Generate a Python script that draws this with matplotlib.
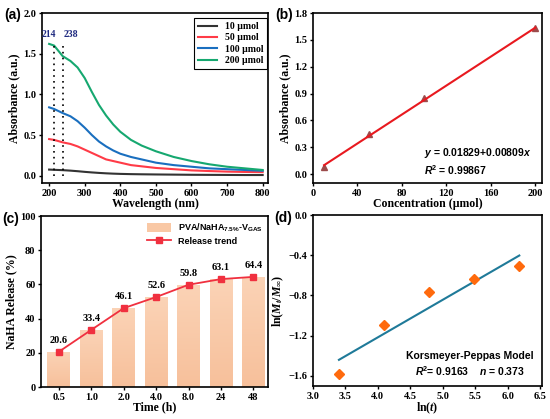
import numpy as np
import matplotlib
matplotlib.use("Agg")
import matplotlib.pyplot as plt
from matplotlib.colors import LinearSegmentedColormap

plt.rcParams['font.family'] = ['Liberation Serif', 'DejaVu Serif']
plt.rcParams['font.weight'] = 'bold'
plt.rcParams['axes.labelweight'] = 'bold'
plt.rcParams['mathtext.fontset'] = 'custom'
plt.rcParams['mathtext.rm'] = 'Liberation Serif:bold'
plt.rcParams['mathtext.it'] = 'Liberation Serif:bold:italic'
plt.rcParams['mathtext.bf'] = 'Liberation Sans:bold'
plt.rcParams['mathtext.sf'] = 'Liberation Sans:bold:italic'
plt.rcParams['axes.linewidth'] = 1.2
plt.rcParams['xtick.major.width'] = 1.0
plt.rcParams['ytick.major.width'] = 1.0
plt.rcParams['xtick.major.size'] = 2.5
plt.rcParams['ytick.major.size'] = 2.5
plt.rcParams['xtick.labelsize'] = 7.5
plt.rcParams['ytick.labelsize'] = 7.5
plt.rcParams['axes.labelsize'] = 8.5

# ---- (a) UV-vis spectra
wl = [200, 214, 238, 260, 280, 300, 320, 340, 360, 380, 400, 430, 460, 500, 550, 600, 650, 700, 750, 800]
abs_10 = [0.075, 0.072, 0.068, 0.062, 0.055, 0.047, 0.040, 0.034, 0.029, 0.025, 0.022, 0.019, 0.017, 0.015, 0.013, 0.011, 0.010, 0.009, 0.008, 0.008]
abs_50 = [0.45, 0.44, 0.41, 0.39, 0.36, 0.32, 0.28, 0.24, 0.20, 0.18, 0.16, 0.13, 0.115, 0.095, 0.08, 0.065, 0.057, 0.05, 0.046, 0.043]
abs_100 = [0.84, 0.82, 0.77, 0.73, 0.67, 0.59, 0.50, 0.42, 0.36, 0.31, 0.27, 0.23, 0.20, 0.16, 0.13, 0.11, 0.09, 0.08, 0.07, 0.06]
abs_200 = [1.62, 1.60, 1.47, 1.41, 1.33, 1.20, 1.03, 0.87, 0.74, 0.63, 0.54, 0.44, 0.37, 0.30, 0.23, 0.18, 0.14, 0.11, 0.09, 0.07]
spec_labels = ['10 µmol', '50 µmol', '100 µmol', '200 µmol']
spec_colors = ['#333333', '#ff3b47', '#1a6fbf', '#16a870']
peaks = [214, 238]

# ---- (b) calibration
conc = [10, 50, 100, 200]
conc_abs = [0.08, 0.45, 0.85, 1.63]
fit_a = 0.01829
fit_b = 0.00809

# ---- (c) release
times = ['0.5', '1.0', '2.0', '4.0', '8.0', '24', '48']
release = [20.6, 33.4, 46.1, 52.6, 59.8, 63.1, 64.4]

# ---- (d) Korsmeyer-Peppas
ln_t = [3.40, 4.10, 4.79, 5.48, 6.18]
ln_m = [-1.58, -1.09, -0.77, -0.64, -0.51]
kp_n = 0.373
kp_k = -2.708

fig = plt.figure(figsize=(5.5, 4.19), dpi=100)
W, H = 550.0, 419.0
def box(l, t, r, b):
    return [l / W, 1 - b / H, (r - l) / W, (b - t) / H]

ax1 = fig.add_axes(box(42, 13, 268, 183))
ax2 = fig.add_axes(box(313, 13, 542, 183))
ax3 = fig.add_axes(box(41, 216, 268, 387))
ax4 = fig.add_axes(box(313, 215, 542, 386))

for ax in (ax1, ax2, ax3, ax4):
    ax.tick_params(direction='out', pad=1.5)

# (a)
for ys, lab, c in zip([abs_10, abs_50, abs_100, abs_200], spec_labels, spec_colors):
    ax1.plot(wl, ys, color=c, lw=1.5, label=lab)
for p in peaks:
    ax1.plot([p, p], [0, 1.64], ls=(0, (1, 2.5)), color='black', lw=1.2)
ax1.text(peaks[0] + 5, 1.68, str(peaks[0]), color='#1f2a80', fontsize=7, ha='right', va='bottom')
ax1.text(peaks[1] + 2, 1.68, str(peaks[1]), color='#1f2a80', fontsize=7, ha='left', va='bottom')
ax1.set_xlim(180, 815)
ax1.set_ylim(-0.09, 2.0)
ax1.set_xticks([200, 300, 400, 500, 600, 700, 800])
ax1.set_yticks([0.0, 0.5, 1.0, 1.5, 2.0])
ax1.yaxis.set_major_formatter('{x:.1f}')
ax1.set_xlabel('Wavelength (nm)', labelpad=0)
ax1.set_ylabel('Absorbance (a.u.)', labelpad=2)
leg = ax1.legend(loc='upper right', fontsize=7, fancybox=False, edgecolor='black',
                 framealpha=1, handlelength=2.0, borderpad=0.4, labelspacing=0.25,
                 bbox_to_anchor=(0.997, 0.97), borderaxespad=0)
leg.get_frame().set_linewidth(0.8)

# (b)
ax2.plot(conc, conc_abs, '^', color='#9c4b4b', ms=5, zorder=2)
xf = np.array([conc[0], conc[-1]])
ax2.plot(xf, fit_a + fit_b * xf, color='#e8191f', lw=1.5, zorder=3)
ax2.set_xlim(0, 206)
ax2.set_ylim(-0.1, 1.8)
ax2.set_xticks([0, 40, 80, 120, 160, 200])
ax2.set_yticks([0.0, 0.3, 0.6, 0.9, 1.2, 1.5, 1.8])
ax2.yaxis.set_major_formatter('{x:.1f}')
ax2.set_xlabel('Concentration (µmol)', labelpad=0)
ax2.set_ylabel('Absorbance (a.u.)', labelpad=2)
ax2.text(0.485, 0.178, r'$\mathsf{y}$ = 0.01829+0.00809$\mathsf{x}$', transform=ax2.transAxes,
         family='Liberation Sans', fontsize=7.5, va='center', ha='left')
ax2.text(0.485, 0.076, r'$\mathsf{R}^{\mathbf{2}}$ = 0.99867', transform=ax2.transAxes,
         family='Liberation Sans', fontsize=7.5, va='center', ha='left')

# (c)
x = np.arange(len(times))
bars = ax3.bar(x, release, width=0.7, color='#f9c8a5', zorder=1,
               label=r'PVA/NaHA$_{\mathbf{7.5\%}}$-V$_{\mathbf{GAS}}$')
cmap = LinearSegmentedColormap.from_list('peach', ['#f7c09b', '#fbd3b6'])
grad = np.linspace(0, 1, 100).reshape(-1, 1)
for b in bars:
    bx, by = b.get_x(), b.get_y()
    im = ax3.imshow(grad, cmap=cmap, origin='lower', aspect='auto',
                    extent=[bx, bx + b.get_width(), by, by + b.get_height()], zorder=1.5)
    im.set_clip_path(b)
ax3.plot(x, release, '-s', color='#f0303f', ms=4, lw=1.3, zorder=3, label='Release trend')
for xi, v in zip(x, release):
    ax3.annotate(f'{v:.1f}', (xi, v), xytext=(0, 5), textcoords='offset points',
                 ha='center', va='bottom', fontsize=7.5)
ax3.set_xlim(-0.55, 6.45)
ax3.set_ylim(0, 100)
ax3.set_xticks(x)
ax3.set_xticklabels(times)
ax3.set_yticks([0, 20, 40, 60, 80, 100])
ax3.set_xlabel('Time (h)', labelpad=0)
ax3.set_ylabel('NaHA Release (%)', labelpad=2)
h, l = ax3.get_legend_handles_labels()
ax3.legend([h[1], h[0]], [l[1], l[0]], loc='upper right', frameon=False,
           prop={'family': 'Liberation Sans', 'weight': 'bold', 'size': 6.5},
           handlelength=2.6, handleheight=1.1, labelspacing=0.3, borderaxespad=0.2)

# (d)
ax4.plot(ln_t, ln_m, 'D', color='#ff6a0d', ms=5, zorder=3)
xf = np.array([ln_t[0], ln_t[-1]])
ax4.plot(xf, kp_k + kp_n * xf, color='#1f7a99', lw=1.5, zorder=2)
ax4.set_xlim(3.0, 6.53)
ax4.set_ylim(-1.7, 0.0)
ax4.set_xticks([3.0, 3.5, 4.0, 4.5, 5.0, 5.5, 6.0, 6.5])
ax4.set_yticks([0.0, -0.4, -0.8, -1.2, -1.6])
ax4.xaxis.set_major_formatter('{x:.1f}')
ax4.yaxis.set_major_formatter('{x:.1f}')
ax4.set_xlabel(r'ln($t$)', labelpad=0)
ax4.set_ylabel(r'ln($M_t$/$M_\infty$)', labelpad=2)
ax4.text(0.686, 0.175, 'Korsmeyer-Peppas Model', transform=ax4.transAxes,
         family='Liberation Sans', fontsize=7.5, va='center', ha='center')
ax4.text(0.686, 0.088, r'$\mathsf{R}^{\mathbf{2}}$= 0.9163    $\mathsf{n}$ = 0.373', transform=ax4.transAxes,
         family='Liberation Sans', fontsize=7.5, va='center', ha='center')

# panel letters
for lab, px, py in [('(a)', 4, 15), ('(b)', 275, 15), ('(c)', 2, 219), ('(d)', 274, 218)]:
    fig.text(px / W, 1 - py / H, lab, family='Liberation Sans', weight='bold', fontsize=10,
             ha='left', va='center')

fig.savefig('out.png', dpi=100)
